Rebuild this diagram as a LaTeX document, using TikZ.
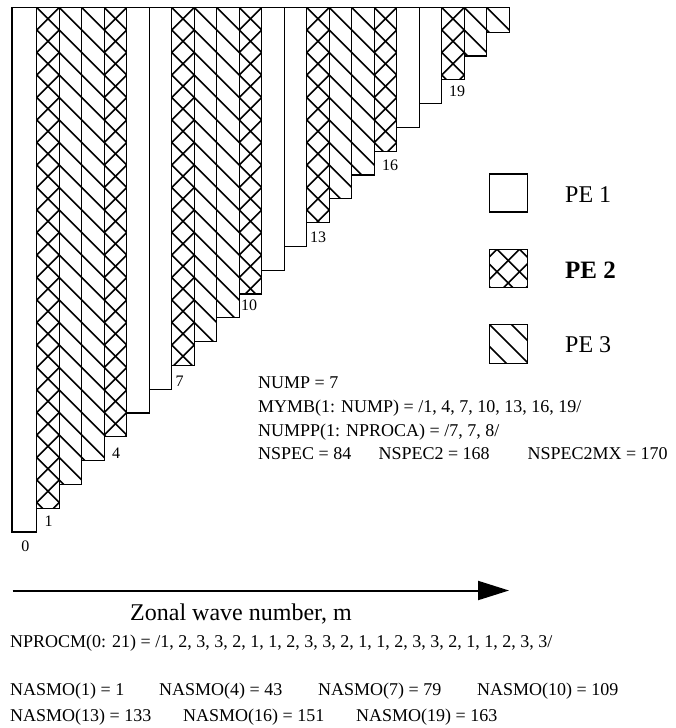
\documentclass[tikz,border=0pt]{standalone}
\usepackage{fontspec}
\setmainfont{Liberation Serif}
\usetikzlibrary{arrows.meta}
\begin{document}
\begin{tikzpicture}[x=1pt,y=-1pt,
  colline/.style={line width=1.2pt, line join=miter},
  hatchline/.style={line width=1.6pt},
  txt/.style={anchor=base west, inner sep=0pt, font=\fontsize{18}{21}\selectfont},
  numlab/.style={anchor=center, inner sep=0pt, font=\fontsize{16}{19}\selectfont},
  legtxt/.style={anchor=base west, inner sep=0pt, font=\fontsize{24}{28}\selectfont},
  axlab/.style={anchor=base west, inner sep=0pt, font=\fontsize{24}{28}\selectfont},
  axisarrow/.style={line width=2pt, -{Triangle[length=31pt,width=19pt]}}
]
\useasboundingbox (0,0) rectangle (675,728);

% ---- columns (zonal wave numbers 0..21)
\foreach \m/\p in {0/1,1/2,2/3,3/3,4/2,5/1,6/1,7/2,8/3,9/3,10/2,11/1,12/1,13/2,14/3,15/3,16/2,17/1,18/1,19/2,20/3,21/3}{
  \pgfmathsetmacro\L{ifthenelse(\m==0,12,36.7+22.5*(\m-1))}
  \pgfmathsetmacro\R{36.7+22.5*\m}
  \pgfmathsetmacro\B{532-23.8*\m}
  \pgfmathtruncatemacro\N{(\B-7.5)/22.5+2}
  \ifnum\p>1
  \begin{scope}
    \clip (\L,7.5) rectangle (\R,\B);
    \foreach \k in {0,...,\N}{
      \draw[hatchline] ({\L-\k*22.5},7.5) -- ++(600,600);
    }
    \ifnum\p=2
    \foreach \k in {0,...,\N}{
      \draw[hatchline] ({\L+\k*22.5},7.5) -- ++(-600,600);
    }
    \fi
  \end{scope}
  \fi
  \draw[colline] (\L,7.5) rectangle (\R,\B);
}

% ---- column labels
\node[numlab] (m0)  at (25.3,546.7) {0};
\node[numlab] (m1)  at (48.5,521)   {1};
\node[numlab] (m4)  at (116,453.5)  {4};
\node[numlab] (m7)  at (179.5,381.5){7};
\node[numlab] (m10) at (249,305)    {10};
\node[numlab] (m13) at (318,237)    {13};
\node[numlab] (m16) at (390,165)    {16};
\node[numlab] (m19) at (457,91.3)   {19};

% ---- legend
\draw[colline] (489.3,174) rectangle (527.7,212);
\begin{scope}
  \clip (489.3,249.3) rectangle (527.7,287.7);
  \foreach \k in {-2,...,4}{
    \draw[hatchline] ({489.3+7.75+\k*22.5},249.3) -- ++(60,60);
    \draw[hatchline] ({489.3+7.75+\k*22.5},249.3) -- ++(-60,60);
  }
\end{scope}
\draw[colline] (489.3,249.3) rectangle (527.7,287.7);
\begin{scope}
  \clip (489.3,324.3) rectangle (527.7,363.3);
  \foreach \k in {-2,...,2}{
    \draw[hatchline] ({489.3+\k*22},324.3) -- ++(60,60);
  }
\end{scope}
\draw[colline] (489.3,324.3) rectangle (527.7,363.3);
\node[legtxt] (pe1) at (565,202.3) {PE 1};
\node[legtxt, font=\fontsize{25}{29}\selectfont\bfseries] (pe2) at (565,278.3) {PE 2};
\node[legtxt] (pe3) at (565,352.3) {PE 3};

% ---- parameter block
\node[txt] (nump)   at (258,388.5) {NUMP = 7};
\node[txt] (mymb)   at (258,412.3) {MYMB(1: NUMP) = /1, 4, 7, 10, 13, 16, 19/};
\node[txt] (numpp)  at (258,436.1) {NUMPP(1: NPROCA) = /7, 7, 8/};
\node[txt] (nspec)  at (258,459.9) {NSPEC = 84};
\node[txt] (nspec2) at (378.3,459.9) {NSPEC2 = 168};
\node[txt] (nspecmx) at (527.3,459.9) {NSPEC2MX = 170};

% ---- axis arrow
\coordinate (axstart) at (12.7,590.5);
\coordinate (axend) at (509,590.5);
\draw[axisarrow] (axstart) -- (axend);
\node[axlab] (zonal) at (130,620) {Zonal wave number, m};

% ---- bottom text
\node[txt] (nprocm) at (10,647.3) {NPROCM(0: 21) = /1, 2, 3, 3, 2, 1, 1, 2, 3, 3, 2, 1, 1, 2, 3, 3, 2, 1, 1, 2, 3, 3/};
\node[txt] (n1)  at (10,695)    {NASMO(1) = 1};
\node[txt] (n4)  at (159,695)   {NASMO(4) = 43};
\node[txt] (n7)  at (318,695)   {NASMO(7) = 79};
\node[txt] (n10) at (477,695)   {NASMO(10) = 109};
\node[txt] (n13) at (10,721.7)  {NASMO(13) = 133};
\node[txt] (n16) at (183,721.7) {NASMO(16) = 151};
\node[txt] (n19) at (356,721.7) {NASMO(19) = 163};
\end{tikzpicture}
\end{document}
